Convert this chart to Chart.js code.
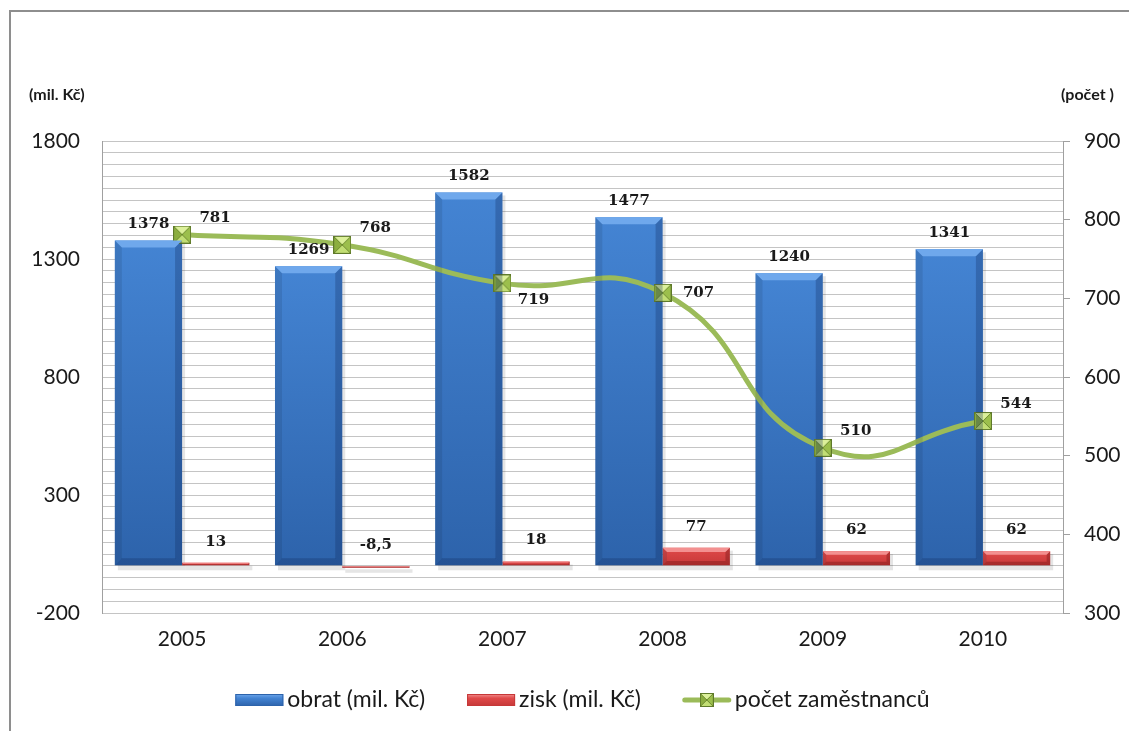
<!DOCTYPE html>
<html>
<head>
<meta charset="utf-8">
<script src="https://cdn.jsdelivr.net/npm/chart.js@4/dist/chart.umd.min.js"></script>
<style>
  html, body { margin: 0; padding: 0; background: #fff; }
  #wrap { position: relative; width: 1129px; height: 731px; }
  #frame { position: absolute; left: 9px; top: 10px; right: -5px; bottom: -5px;
           border-top: 2px solid #8e8e8e; border-left: 2px solid #8e8e8e; }
  canvas { position: absolute; left: 0; top: 0; }
</style>
</head>
<body>
<div id="wrap">
  <div id="frame"></div>
  <canvas id="graf" width="1129" height="731"></canvas>
</div>
<script>
// data
const roky = ['2005', '2006', '2007', '2008', '2009', '2010'];
const obrat = [1378, 1269, 1582, 1477, 1240, 1341];
const zisk = [13, -8.5, 18, 77, 62, 62];
const pocet = [781, 768, 719, 707, 510, 544];
// where the employee count label sits next to its marker
const pocetPopisky = ['ne', 'ne', 'se', 'e', 'ne', 'ne'];

const nazvy = ['obrat (mil. Kč)', 'zisk (mil. Kč)', 'počet zaměstnanců'];
const levaOsa = { min: -200, max: 1800, krok: 50, popisKazdy: 500 };
const pravaOsa = { min: 300, max: 900, krok: 100 };

const FONT = 'Lato, "Open Sans", sans-serif';
const ZELENA = '#9bbb59';

function formatCislo(v) {
    return String(v).replace('.', ',');
}

// square marker with a pyramid look
function udelejZnacku(size) {
    const c = document.createElement('canvas');
    c.width = size; c.height = size;
    const g = c.getContext('2d');
    const s = size, m = s / 2;
    const tri = (pts, col) => {
        g.beginPath();
        g.moveTo(pts[0], pts[1]); g.lineTo(pts[2], pts[3]); g.lineTo(m, m);
        g.closePath(); g.fillStyle = col; g.fill();
    };
    tri([0, 0, s, 0], '#dcf09a');
    tri([s, 0, s, s], '#9cbf4c');
    tri([s, s, 0, s], '#c2de74');
    tri([0, s, 0, 0], '#8cae40');
    g.strokeStyle = '#6d8a30';
    g.lineWidth = 1;
    g.beginPath();
    g.moveTo(0, 0); g.lineTo(s, s); g.moveTo(s, 0); g.lineTo(0, s);
    g.stroke();
    g.strokeStyle = '#5f7a2a';
    g.strokeRect(0.5, 0.5, s - 1, s - 1);
    return c;
}
const znacka = udelejZnacku(18);
const znackaMala = udelejZnacku(14);

const barvy = {
    modra: { top: '#4484d3', bottom: '#2d63ab', bevel: '#6fa8ec', side: 'rgba(15,40,90,0.28)' },
    cervena: { top: '#e04a4a', bottom: '#c63838', bevel: '#f39090', side: 'rgba(90,10,10,0.30)' }
};

// vertical gradient over one bar, from its value to zero
function gradient(c, b) {
    const chart = c.chart;
    if (!chart.chartArea || c.parsed === undefined) return b.top;
    const sc = chart.scales.y;
    const y0 = sc.getPixelForValue(Math.max(c.parsed.y, 0));
    const y1 = sc.getPixelForValue(Math.min(c.parsed.y, 0));
    if (y1 - y0 < 2) return b.bottom;
    const g = chart.ctx.createLinearGradient(0, y0, 0, y1);
    g.addColorStop(0, b.top);
    g.addColorStop(1, b.bottom);
    return g;
}

// bevel on the bars, drawn from the bar elements
const bevelPlugin = {
    id: 'bevel',
    beforeDatasetsDraw(chart) {
        // soft shadow behind bars
        const ctx = chart.ctx;
        [1, 2].forEach(di => {
            chart.getDatasetMeta(di).data.forEach(el => {
                const left = el.x - el.width / 2;
                const top = Math.min(el.y, el.base), bot = Math.max(el.y, el.base);
                ctx.save();
                ctx.fillStyle = 'rgba(0,0,0,0.10)';
                ctx.fillRect(left + 3, top + 3, el.width, bot - top + 2);
                ctx.restore();
            });
        });
    },
    afterDatasetsDraw(chart) {
        const ctx = chart.ctx;
        [1, 2].forEach(di => {
            const meta = chart.getDatasetMeta(di);
            const b = di === 1 ? barvy.modra : barvy.cervena;
            meta.data.forEach(el => {
                const left = el.x - el.width / 2, right = el.x + el.width / 2;
                const top = Math.min(el.y, el.base), bot = Math.max(el.y, el.base);
                const h = bot - top;
                if (h < 1) return;
                const bv = Math.min(7, Math.max(1, h / 4));
                ctx.save();
                ctx.fillStyle = b.bevel;
                ctx.beginPath();
                ctx.moveTo(left, top); ctx.lineTo(right, top);
                ctx.lineTo(right - bv, top + bv); ctx.lineTo(left + bv, top + bv);
                ctx.closePath(); ctx.fill();
                ctx.fillStyle = b.side;
                ctx.beginPath();
                ctx.moveTo(right, top); ctx.lineTo(right, bot);
                ctx.lineTo(right - bv, bot - bv); ctx.lineTo(right - bv, top + bv);
                ctx.closePath(); ctx.fill();
                ctx.beginPath();
                ctx.moveTo(left, bot); ctx.lineTo(right, bot);
                ctx.lineTo(right - bv, bot - bv); ctx.lineTo(left + bv, bot - bv);
                ctx.closePath(); ctx.fill();
                ctx.fillStyle = 'rgba(20,30,60,0.12)';
                ctx.beginPath();
                ctx.moveTo(left, top); ctx.lineTo(left, bot);
                ctx.lineTo(left + bv, bot - bv); ctx.lineTo(left + bv, top + bv);
                ctx.closePath(); ctx.fill();
                ctx.restore();
            });
        });
    }
};

// value labels
const popiskyPlugin = {
    id: 'popisky',
    afterDraw(chart) {
        const ctx = chart.ctx;
        ctx.save();
        ctx.font = 'bold 15px "DejaVu Serif", serif';
        ctx.fillStyle = '#1a1a1a';
        ctx.textAlign = 'center';
        ctx.textBaseline = 'middle';
        [1, 2].forEach(di => {
            const meta = chart.getDatasetMeta(di);
            const data = chart.data.datasets[di].data;
            meta.data.forEach((el, i) => {
                const top = Math.min(el.y, el.base);
                ctx.fillText(formatCislo(data[i]), el.x, top - (di === 1 ? 16 : 21));
            });
        });
        const meta = chart.getDatasetMeta(0);
        const posun = { ne: [33, -17], se: [31, 17], e: [36, 0] };
        meta.data.forEach((el, i) => {
            const p = posun[pocetPopisky[i]];
            ctx.fillText(formatCislo(pocet[i]), el.x + p[0], el.y + p[1]);
        });
        ctx.restore();
    }
};

// axis unit captions and legend
const extrasPlugin = {
    id: 'extras',
    afterDraw(chart) {
        const ctx = chart.ctx;
        const area = chart.chartArea;
        ctx.save();
        ctx.fillStyle = '#1a1a1a';
        ctx.textBaseline = 'middle';
        ctx.font = 'bold 16px ' + FONT;
        ctx.textAlign = 'left';
        ctx.fillText('(mil. Kč)', 29, 95);
        ctx.fillText('(počet )', 1061, 95);

        // legend
        ctx.font = '23px ' + FONT;
        const boxW = 48, gapTxt = 4, gapItem = 42, y = 700;
        const widths = nazvy.map(t => boxW + gapTxt + ctx.measureText(t).width);
        const total = widths.reduce((a, b) => a + b, 0) + gapItem * (nazvy.length - 1);
        let x = (area.left + area.right) / 2 - total / 2;
        nazvy.forEach((t, i) => {
            if (i < 2) {
                const b = i === 0 ? barvy.modra : barvy.cervena;
                const g = ctx.createLinearGradient(0, y - 6, 0, y + 6);
                g.addColorStop(0, b.bevel);
                g.addColorStop(0.35, b.top);
                g.addColorStop(1, b.bottom);
                ctx.fillStyle = g;
                ctx.fillRect(x, y - 6, boxW, 12);
                ctx.strokeStyle = b.bottom;
                ctx.lineWidth = 1;
                ctx.strokeRect(x + 0.5, y - 5.5, boxW - 1, 11);
            } else {
                ctx.strokeStyle = ZELENA;
                ctx.lineWidth = 5;
                ctx.lineCap = 'round';
                ctx.beginPath();
                ctx.moveTo(x + 2, y); ctx.lineTo(x + boxW - 2, y);
                ctx.stroke();
                ctx.drawImage(znackaMala, x + boxW / 2 - 7, y - 7);
            }
            ctx.fillStyle = '#1a1a1a';
            ctx.fillText(t, x + boxW + gapTxt, y);
            x += widths[i] + gapItem;
        });
        ctx.restore();
    }
};

new Chart(document.getElementById('graf').getContext('2d'), {
    type: 'bar',
    data: {
        labels: roky,
        datasets: [{
            type: 'line',
            label: nazvy[2],
            data: pocet,
            yAxisID: 'y1',
            borderColor: ZELENA,
            borderWidth: 5,
            tension: 0.5,
            pointStyle: znacka,
            pointRadius: 9,
            order: 0
        }, {
            label: nazvy[0],
            data: obrat,
            yAxisID: 'y',
            backgroundColor: c => gradient(c, barvy.modra),
            categoryPercentage: 0.84,
            barPercentage: 1.0,
            order: 1
        }, {
            label: nazvy[1],
            data: zisk,
            yAxisID: 'y',
            backgroundColor: c => gradient(c, barvy.cervena),
            categoryPercentage: 0.84,
            barPercentage: 1.0,
            order: 2
        }]
    },
    options: {
        responsive: false,
        animation: false,
        layout: { padding: { top: 141, left: 0, right: 0, bottom: 0 } },
        plugins: {
            legend: { display: false },
            tooltip: { enabled: false }
        },
        scales: {
            x: {
                grid: { display: false },
                border: { display: false },
                ticks: { font: { family: FONT, size: 21 }, color: '#1a1a1a', padding: 6 },
                afterFit: s => { s.height = 118; }
            },
            y: {
                position: 'left',
                min: levaOsa.min,
                max: levaOsa.max,
                ticks: {
                    stepSize: levaOsa.krok,
                    autoSkip: false,
                    font: { family: FONT, size: 21 },
                    color: '#1a1a1a',
                    padding: 22,
                    callback: v => ((v - levaOsa.min) % levaOsa.popisKazdy === 0 ? v : '')
                },
                grid: { color: '#c4c4c4', lineWidth: 1, drawTicks: false },
                border: { display: true, color: '#a0a0a0', width: 1 },
                afterFit: s => { s.width = 102; }
            },
            y1: {
                position: 'right',
                min: pravaOsa.min,
                max: pravaOsa.max,
                ticks: {
                    stepSize: pravaOsa.krok,
                    font: { family: FONT, size: 21 },
                    color: '#1a1a1a',
                    padding: 14
                },
                grid: { drawOnChartArea: false, color: '#a0a0a0', tickLength: 7 },
                border: { display: true, color: '#a0a0a0', width: 1 },
                afterFit: s => { s.width = 66; }
            }
        }
    },
    plugins: [bevelPlugin, popiskyPlugin, extrasPlugin]
});
</script>
</body>
</html>
